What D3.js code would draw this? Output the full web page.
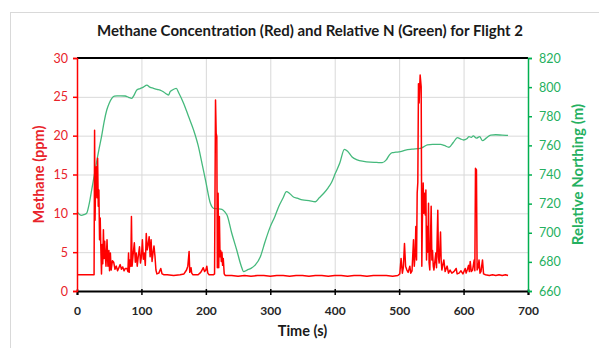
<!DOCTYPE html>
<html>
<head>
<meta charset="utf-8">
<script src="https://cdn.jsdelivr.net/npm/d3@7"></script>
<style>
  body { margin: 0; background: #fff; }
  svg text { font-family: Lato, 'Open Sans', sans-serif; }
</style>
</head>
<body>
<div id="wrapper"></div>
<script>
// methane (red) samples: time (s), concentration (ppm)
const methaneTime = [0, 10, 20, 26.5, 27.3, 28, 29, 30, 31, 32, 33, 34, 35, 36, 37, 38, 39, 40, 41, 42, 43, 44, 45, 46.6, 48, 49.5, 50.5, 51.8, 53, 55, 57, 59, 61, 63, 65, 67, 69, 71, 73, 75, 77.6, 79, 80, 81, 82, 83.5, 84.5, 85.5, 87, 89, 90.5, 92, 93.5, 95, 97, 98.5, 100, 101.5, 103, 104.5, 106, 107.5, 109, 110.5, 112, 113.5, 115, 116.5, 118, 119.5, 121, 122.5, 124, 127, 130, 132, 135,
  140, 150, 160, 166, 170, 172, 174, 175, 177, 178, 180, 188, 192, 194, 196, 198, 200, 201.5, 203, 205, 212, 213.5, 215, 216, 217, 217.8, 219, 220, 221, 222, 223, 224, 225, 226, 227, 228.5, 230,
  240, 250, 260, 270, 280, 290, 300, 310, 320, 330, 340, 350, 360, 370, 380, 390, 400, 410, 420, 430, 440, 450, 460, 470, 480, 490, 498,
  501, 503, 505, 506.5, 508.3, 510, 512, 514, 516.6, 518, 520, 522.3, 523.5, 525, 525.9, 527, 528, 529, 530, 531, 532.6, 534.2, 535.2, 536, 537.3, 538.3, 539.4, 540.5, 541.5, 542.5, 543.5, 544.5, 545.6, 546.5, 547.6, 548.5, 549.7, 550.8, 551.8, 553, 554, 556.9, 558, 560, 561, 562.1, 563, 564.2, 565.2, 566.3, 567.5, 569.4, 571.4, 573, 574.5, 576.6, 579, 581.8, 585, 588.5, 590, 593, 596, 599, 602.5, 604, 606, 607.7, 609, 610.3, 612, 614, 616.5, 617.5, 618.5, 620, 621, 622.5, 624, 625.5, 627, 629.4, 631, 634, 640, 645, 650, 655, 660, 665, 669]
const methanePpm = [2.1, 2.1, 2.1, 2.1, 20.7, 9.1, 14.5, 16, 12, 17.1, 10.9, 13, 6.6, 9.4, 5.5, 2.2, 6, 3.5, 7.9, 4.2, 6.4, 4.5, 3.2, 6.6, 3.2, 5.2, 2.6, 4.9, 2.7, 3.9, 3.7, 2.8, 3.2, 2.6, 3.0, 3.4, 2.8, 3.1, 2.6, 2.9, 2.9, 2.5, 4.9, 2.4, 4.0, 3.2, 9.6, 3.2, 4.6, 6.2, 3.7, 4.9, 3.2, 4.4, 5.7, 3.6, 4.4, 6.6, 4.1, 4.9, 3.3, 7.4, 5.3, 6.0, 7.0, 4.4, 6.6, 3.8, 4.9, 5.8, 4.5, 2.7, 2.2, 2.3, 2.9, 2.2, 2.1,
  2.1, 2.0, 2.1, 2.2, 2.7, 3.2, 5.1, 2.4, 3.0, 2.3, 2.1, 2.1, 2.4, 2.7, 3.0, 2.5, 2.7, 3.2, 2.3, 2.1, 2.1, 2.2, 24.6, 20.3, 19.9, 3.0, 12.6, 3.0, 9.6, 4.4, 5.2, 3.8, 5.0, 3.3, 4.2, 2.2, 2.0,
  2.0, 1.9, 2.0, 1.9, 2.0, 2.0, 1.9, 2.0, 2.0, 1.9, 2.0, 2.0, 1.9, 2.0, 2.0, 1.9, 2.0, 2.0, 1.9, 2.0, 2.0, 1.9, 2.0, 2.0, 2.0, 1.9, 2.0,
  2.2, 4.2, 2.3, 3.0, 6.1, 3.2, 2.7, 2.4, 3.2, 2.3, 2.6, 6.6, 3.2, 5.0, 8.3, 4.0, 12.6, 14, 26.7, 24.2, 27.8, 26.3, 3.2, 8.7, 13.9, 10, 12.6, 9.8, 13.0, 4.0, 8.3, 5.0, 11.3, 3.6, 2.7, 6.0, 10.9, 4.0, 5.2, 3.2, 2.7, 4.9, 3.0, 10.4, 4.4, 3.6, 5.0, 7.6, 4.0, 2.7, 3.2, 4.0, 2.5, 2.9, 3.2, 2.3, 2.7, 2.3, 2.5, 2.9, 2.2, 2.3, 2.6, 2.2, 2.9, 2.3, 2.8, 3.3, 2.5, 3.8, 2.5, 2.7, 4.0, 2.6, 15.8, 15.6, 2.7, 3.0, 4.0, 2.3, 2.5, 4.0, 2.2, 2.1, 2.0, 2.1, 2.0, 2.1, 2.0, 2.1, 2.0]

// relative northing (green) samples: time (s), northing (m)
const northingTime = [0, 4, 7, 11, 15, 19, 23, 27, 31, 34, 38.5, 42, 46.2, 50, 54, 58, 62, 68, 74.7, 80, 85, 88, 92.8, 98, 103, 108.4, 113, 118.7, 124, 129, 135, 140, 142, 144.6, 148, 154, 158, 165.4, 173, 181, 188, 194, 200, 207, 212, 218, 225, 230, 232.8, 240, 248, 255, 258.6, 264, 270, 276.8, 284.6, 292, 300, 307, 313, 320, 325, 330, 336, 341.7, 350, 360, 370, 376, 383, 390, 395, 401, 408, 415, 420, 427, 434.9, 445, 455, 465, 473.8, 480, 485, 489.4, 495, 502, 510, 520, 533, 538, 543.8, 552, 564.5, 570, 577.4, 584, 590.5, 595, 600, 605, 608.5, 612, 615, 620, 625, 629.4, 635, 642.3, 650, 660, 669]
const northingM = [714.5, 712.5, 712, 712.5, 713.4, 720, 730, 740, 750, 757, 767, 776, 784.3, 789, 792.3, 793.8, 794, 794, 793.9, 793, 792.3, 794, 798, 799, 800, 801.4, 800, 799.2, 798.5, 798, 796.5, 795, 794.6, 796.9, 798, 799.2, 796, 789, 780, 770.5, 760, 747.7, 735, 720.2, 716.8, 716.5, 716.1, 714, 712.2, 700, 688, 677, 673.3, 674.4, 675.5, 677.9, 683.6, 694, 704.2, 711, 717.9, 724, 728.2, 727, 724.5, 723.7, 722.5, 722, 721.3, 724, 727.1, 731, 734.5, 740.8, 748, 757.3, 756, 752, 750, 749, 748.5, 748.3, 748.1, 750, 753.5, 755, 755.3, 755.7, 756.8, 757.4, 758, 759, 760.3, 760.7, 760.7, 760, 758.7, 762, 765.3, 764.5, 763.7, 764.5, 766, 765.5, 766.5, 765, 766, 763.2, 765, 767.1, 767.3, 767, 766.8]

const timeTicks = [0, 100, 200, 300, 400, 500, 600, 700]
const ppmTicks = [0, 5, 10, 15, 20, 25, 30]
const northingTicks = [660, 680, 700, 720, 740, 760, 780, 800, 820]

const methane = methaneTime.map((t, i) => ({ t: t, v: methanePpm[i] }))
const northing = northingTime.map((t, i) => ({ t: t, v: northingM[i] }))

const red = '#ff0000'
const redText = '#e8232a'
const greenLine = '#45b97c'
const greenAxis = '#00b050'
const greenText = '#25b060'

//dimensions
let dimensions = {
  width: 599,
  height: 348,
  margin: { top: 58, right: 71, bottom: 57, left: 77 }
}
dimensions.boundedWidth = dimensions.width - dimensions.margin.left - dimensions.margin.right
dimensions.boundedHeight = dimensions.height - dimensions.margin.top - dimensions.margin.bottom

//canvas
const wrapper = d3.select('#wrapper')
  .append('svg')
    .attr('width', dimensions.width)
    .attr('height', dimensions.height)

// chart frame
wrapper.append('rect')
  .attr('x', 10.5).attr('y', 12.5)
  .attr('width', 620).attr('height', 360)
  .attr('fill', 'none')
  .attr('stroke', '#d9d9d9')

const bounds = wrapper.append('g')
  .attr('transform', `translate(${dimensions.margin.left}, ${dimensions.margin.top})`)

//scales
const xScale = d3.scaleLinear()
  .domain([0, 700])
  .range([0, dimensions.boundedWidth])

const yLeft = d3.scaleLinear()
  .domain([0, 30])
  .range([dimensions.boundedHeight, 0])

const yRight = d3.scaleLinear()
  .domain([660, 820])
  .range([dimensions.boundedHeight, 0])

//gridlines
bounds.append('g')
  .selectAll('line')
  .data(ppmTicks.slice(1, -1))
  .join('line')
    .attr('x1', 0).attr('x2', dimensions.boundedWidth)
    .attr('y1', d => yLeft(d) + 0.5).attr('y2', d => yLeft(d) + 0.5)
    .attr('stroke', '#d9d9d9')

bounds.append('g')
  .selectAll('line')
  .data(timeTicks.slice(1, -1))
  .join('line')
    .attr('x1', d => xScale(d) + 0.5).attr('x2', d => xScale(d) + 0.5)
    .attr('y1', 0).attr('y2', dimensions.boundedHeight)
    .attr('stroke', '#d9d9d9')

//lines
const methaneLine = d3.line()
  .x(d => xScale(d.t))
  .y(d => yLeft(d.v))

const northingLine = d3.line()
  .x(d => xScale(d.t))
  .y(d => yRight(d.v))
  .curve(d3.curveMonotoneX)

bounds.append('path')
  .datum(northing)
  .attr('d', northingLine)
  .attr('fill', 'none')
  .attr('stroke', greenLine)
  .attr('stroke-width', 1.3)

bounds.append('path')
  .datum(methane)
  .attr('d', methaneLine)
  .attr('fill', 'none')
  .attr('stroke', red)
  .attr('stroke-width', 1.5)
  .attr('stroke-linejoin', 'round')

// top border of plot
bounds.append('line')
  .attr('x1', 0).attr('x2', dimensions.boundedWidth)
  .attr('y1', 0).attr('y2', 0)
  .attr('stroke', '#000')
  .attr('stroke-width', 2)

//axes
const xAxis = bounds.append('g')
  .attr('transform', `translate(0, ${dimensions.boundedHeight})`)
  .call(d3.axisBottom(xScale).tickValues(timeTicks).tickSize(4).tickPadding(11))
xAxis.select('.domain').attr('stroke', '#000').attr('stroke-width', 2)
xAxis.selectAll('.tick line').attr('stroke', '#000').attr('stroke-width', 1.5).attr('y1', -2)
xAxis.selectAll('.tick text')
  .attr('fill', '#262626')
  .style('font-size', '12px')
  .style('font-weight', 'bold')

const leftAxis = bounds.append('g')
  .call(d3.axisLeft(yLeft).tickValues(ppmTicks).tickSize(4).tickPadding(5))
leftAxis.select('.domain').attr('stroke', red).attr('stroke-width', 1.5)
leftAxis.selectAll('.tick line').attr('stroke', red).attr('stroke-width', 1.5)
leftAxis.selectAll('.tick text')
  .attr('fill', redText)
  .style('font-size', '12.5px')

const rightAxis = bounds.append('g')
  .attr('transform', `translate(${dimensions.boundedWidth}, 0)`)
  .call(d3.axisRight(yRight).tickValues(northingTicks).tickSize(4).tickPadding(7))
rightAxis.select('.domain').attr('stroke', greenAxis).attr('stroke-width', 1.5)
rightAxis.selectAll('.tick line').attr('stroke', greenAxis).attr('stroke-width', 1.5)
rightAxis.selectAll('.tick text')
  .attr('fill', greenText)
  .style('font-size', '12.5px')

//labels
wrapper.append('text')
  .attr('x', 310)
  .attr('y', 36)
  .attr('text-anchor', 'middle')
  .style('font-size', '15px')
  .style('font-weight', 'bold')
  .attr('fill', '#1a1a1a')
  .text('Methane Concentration (Red) and Relative N (Green) for Flight 2')

wrapper.append('text')
  .attr('x', dimensions.margin.left + dimensions.boundedWidth / 2)
  .attr('y', 336)
  .attr('text-anchor', 'middle')
  .style('font-size', '14.5px')
  .style('font-weight', 'bold')
  .attr('fill', '#1a1a1a')
  .text('Time (s)')

wrapper.append('text')
  .attr('transform', `translate(44, ${dimensions.margin.top + dimensions.boundedHeight / 2}) rotate(-90)`)
  .attr('text-anchor', 'middle')
  .style('font-size', '14.5px')
  .style('font-weight', 'bold')
  .attr('fill', redText)
  .text('Methane (ppm)')

wrapper.append('text')
  .attr('transform', `translate(583, ${dimensions.margin.top + dimensions.boundedHeight / 2}) rotate(-90)`)
  .attr('text-anchor', 'middle')
  .style('font-size', '15px')
  .style('font-weight', 'bold')
  .attr('fill', greenText)
  .text('Relative Northing (m)')
</script>
</body>
</html>
